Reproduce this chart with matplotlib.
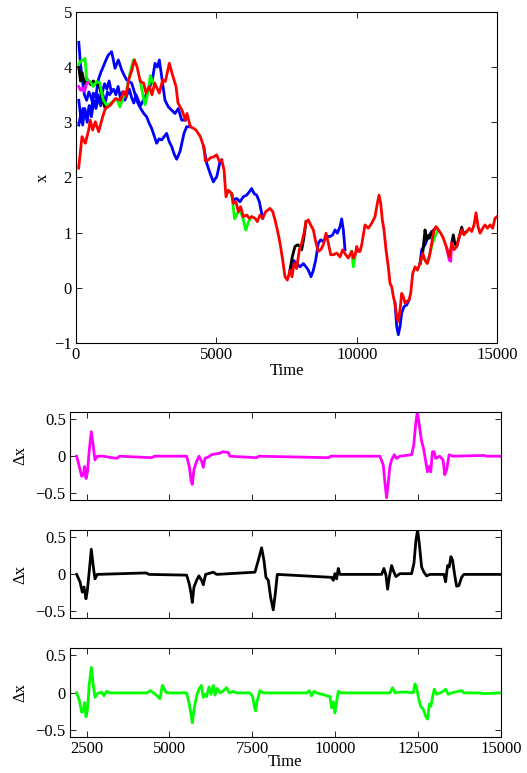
import matplotlib
matplotlib.use("Agg")
import matplotlib.pyplot as plt

plt.rcParams['font.family'] = ['Liberation Serif', 'DejaVu Serif']
plt.rcParams['font.size'] = 12

# ---------------- top panel data ----------------
red_t = [95,214,333,451,510,594,689,808,950,1045,1223,1401,1579,1698,1793,1876,1995,2078,2173,2292,2411,2494,2613,2708,2803,2969,3088,3183,3326,3421,3563,3634,3777,3895,3955,4073,4192,4276,4430,4549,4610,4716,4800,4893,5012,5107,5190,5273,5344,5427,5546,5605,5700,5783,5866,5961,6080,6175,6259,6378,6461,6556,6652,6759,6912,7009,7091,7174,7269,7364,7447,7530,7625,7696,7767,7862,7957,8041,8124,8195,8278,8361,8456,8551,8634,8718,8812,8908,8990,9075,9169,9288,9407,9502,9609,9702,9823,9882,9950,10001,10060,10119,10179,10297,10415,10535,10653,10736,10796,10856,10914,10974,11045,11127,11188,11248,11306,11366,11426,11484,11544,11604,11662,11722,11783,11865,11925,11996,12079,12161,12257,12353,12435,12517,12588,12673,12755,12827,12909,12994,13087,13208,13301,13386,13468,13564,13657,13742,13824,13921,14013,14099,14181,14252,14324,14395,14490,14572,14655,14751,14846,14929,15000]
red_x = [2.17,2.74,2.62,2.86,3.04,2.86,3.01,2.83,3.10,3.25,3.31,3.43,3.40,3.56,3.47,3.77,3.95,4.13,4.01,3.74,3.71,3.53,3.65,3.50,3.71,3.53,3.77,3.74,4.07,3.89,3.65,3.35,3.22,3.04,3.16,2.92,2.89,2.86,2.74,2.56,2.30,2.32,2.36,2.37,2.41,2.29,2.32,2.14,1.65,1.77,1.71,1.53,1.56,1.38,1.47,1.29,1.32,1.26,1.29,1.26,1.20,1.32,1.26,1.38,1.44,1.38,1.23,1.05,0.81,0.50,0.20,0.14,0.32,0.20,0.44,0.35,0.69,0.81,0.99,1.20,1.23,1.14,1.05,0.81,0.66,0.69,0.78,0.99,0.81,0.60,0.60,0.63,0.56,0.69,0.60,0.54,0.66,0.54,0.60,0.75,0.66,0.66,0.78,1.14,1.08,1.17,1.29,1.53,1.68,1.53,1.23,1.05,0.69,0.38,0.08,0.02,-0.16,-0.28,-0.52,-0.61,-0.40,-0.10,-0.16,-0.28,-0.25,-0.22,-0.10,0.26,0.38,0.32,0.44,0.63,0.50,0.44,0.56,0.81,1.05,1.11,1.05,0.99,0.90,0.72,0.56,0.81,0.69,0.75,0.93,1.05,0.96,1.02,1.08,1.02,1.14,1.36,1.11,0.99,1.08,1.14,1.08,1.14,1.08,1.26,1.29]

blueA_t = [100,180,250,321,400,480,550,617,700,796,880,974,1060,1152,1271,1390,1509,1627,1720,1806,1984,2080,2162,2250,2340,2430,2518,2610,2696,2790,2874,2960,3052,3140,3230,3320,3409,3500,3587,3706,3848,3943,4073]
blueA_x = [3.40,3.05,3.25,3.22,3.00,3.30,3.15,3.53,3.45,3.77,3.90,4.01,4.12,4.22,4.28,3.98,4.13,3.95,3.85,3.77,3.71,3.55,3.40,3.30,3.22,3.15,3.10,2.98,2.89,2.75,2.62,2.70,2.68,2.74,2.80,2.65,2.56,2.42,2.33,2.47,2.80,2.92,2.92]

blueB_t = [100,160,230,300,380,460,540,620,700,780,860,940,1020,1100,1180,1260,1340,1420,1500,1580,1660,1740,1820,1900,1980,2060,2140,2220,2300,2399,2500,2637,2730,2815,2900,2969,3052,3171,3290,3409,3527,3646,3765,3895]
blueB_x = [4.45,4.05,3.75,3.50,3.40,3.55,3.45,3.30,3.35,3.50,3.40,3.55,3.70,3.60,3.75,3.55,3.60,3.50,3.65,3.45,3.55,3.40,3.50,3.60,3.45,3.35,3.50,3.40,3.30,3.40,3.50,3.65,3.80,4.07,4.00,4.13,3.83,3.40,3.28,3.22,3.16,3.25,3.04,3.04]

blueC_t = [100,170,240,310,390,470,550,630,710,800,880,960,1040,1120,1200,1260]
blueC_x = [2.95,3.15,2.95,3.25,3.05,3.30,3.10,3.40,3.25,3.45,3.30,3.50,3.35,3.55,3.50,3.55]

blueD1_t = [4549,4656,4774,4893,4950,5012,5071,5131,5190]
blueD1_x = [2.56,2.26,2.08,1.92,1.97,2.01,2.14,2.29,2.32]
blueD2_t = [5546,5605,5724,5843,5961,6080,6175,6259,6342,6437,6532,6592,6652]
blueD2_x = [1.71,1.59,1.62,1.56,1.65,1.68,1.74,1.80,1.71,1.68,1.56,1.41,1.26]
blueD3_t = [7625,7743,7862,7981,8100,8195,8278,8373,8456,8539,8634,8718,8812,8932,9050,9145,9228,9312,9407,9466,9525,9585]
blueD3_x = [0.32,0.50,0.44,0.38,0.44,0.38,0.32,0.20,0.32,0.50,0.81,0.87,0.84,0.93,0.93,0.96,1.05,0.99,1.11,1.25,1.05,0.69]
blueD4_t = [11366,11426,11484,11544,11604,11687,11783,11865]
blueD4_x = [-0.28,-0.70,-0.85,-0.70,-0.46,-0.34,-0.31,-0.22]
blueD5_t = [12257,12316,12435,12553,12673,12755]
blueD5_x = [0.44,0.69,0.78,0.93,1.02,1.05]

blackS_t = [100,160,220,300,380,460,540,620,700,780,860,940,1045]
blackS_x = [4.00,3.75,3.90,3.70,3.80,3.72,3.68,3.75,3.70,3.72,3.60,3.40,3.25]
blackD1_t = [7625,7700,7803,7900,7981,8041,8100,8159,8195]
blackD1_x = [0.32,0.55,0.75,0.78,0.75,0.69,0.85,1.05,1.20]
blackD2_t = [12257,12353,12435,12494,12553,12600,12673,12755]
blackD2_x = [0.44,0.63,1.05,0.87,0.95,0.90,1.00,1.05]
blackD3_t = [13386,13444,13500,13564,13657,13742,13800,13921]
blackD3_x = [0.81,0.96,0.80,0.75,0.93,1.10,0.98,1.02]

greenS_t = [100,142,261,321,380,499,617,736,855,915,974,1093,1212,1330,1450,1568,1687,1806,1924,2043,2078]
greenS_x = [4.05,4.10,4.13,4.16,3.77,3.74,3.65,3.74,3.71,3.53,3.40,3.31,3.34,3.38,3.43,3.28,3.46,3.59,3.89,4.13,4.13]
greenD1_t = [2292,2400,2458,2550,2650,2750,2803]
greenD1_x = [3.74,3.45,3.32,3.50,3.85,3.70,3.71]
greenD2_t = [5546,5650,5750,5850,5950,6050,6150,6259]
greenD2_x = [1.71,1.25,1.35,1.40,1.25,1.05,1.20,1.29]
greenD3_t = [9823,9882,9941]
greenD3_x = [0.66,0.38,0.56]
greenD4_t = [12435,12494,12600,12700,12800,12909]
greenD4_x = [0.50,0.45,0.60,0.80,0.95,1.05]

magS_t = [100,160,230,300,380,440]
magS_x = [3.65,3.58,3.62,3.56,3.70,3.72]
magD1_t = [13208,13301,13350,13386]
magD1_x = [0.72,0.50,0.48,0.81]

# ---------------- difference panels ----------------
dm_t = [2201,2281,2352,2402,2442,2482,2523,2583,2643,2704,2754,2824,3000,3407,3500,4463,4550,5519,5599,5649,5689,5740,5820,5890,5971,6021,6071,6172,6272,6373,6524,6604,6775,6825,7630,7700,9800,9870,11349,11450,11500,11550,11600,11650,11701,11781,11852,11950,12304,12369,12429,12480,12530,12600,12671,12731,12781,12831,12882,12932,12982,13032,13150,13254,13304,13364,13435,13550,14500,14560,15000]
dm_v = [0,-0.14,-0.27,-0.25,-0.14,-0.30,-0.23,0.09,0.33,0.13,-0.05,0,0,-0.03,0,-0.02,0,0,-0.14,-0.32,-0.38,-0.18,-0.07,0,-0.07,-0.15,-0.03,-0.01,0.02,0.03,0.04,0.06,0.05,0,-0.02,0,-0.02,0,0,-0.12,-0.36,-0.56,-0.36,-0.14,-0.05,0.02,-0.03,0,0.02,0.15,0.44,0.60,0.44,0.22,0.09,-0.07,-0.21,-0.14,-0.21,0.06,0.06,-0.03,0,-0.05,-0.25,-0.18,0.02,0,0.01,0,0]

dk_t = [2201,2301,2372,2422,2482,2523,2583,2643,2704,2754,2824,4300,4380,5519,5599,5649,5689,5740,5820,5890,5971,6021,6091,6323,6423,7579,7680,7780,7851,7911,7982,8052,8132,8193,8253,9892,9942,9992,10042,10093,10143,11399,11470,11530,11581,11631,11701,11771,11832,11952,12304,12375,12435,12485,12536,12606,12676,12757,12857,13279,13330,13390,13440,13490,13541,13601,13662,13732,13812,13882,15000]
dk_v = [0,-0.10,-0.24,-0.17,-0.33,-0.22,0.05,0.34,0.10,-0.06,0,0.02,0,-0.01,-0.13,-0.25,-0.38,-0.17,-0.08,-0.02,-0.08,-0.14,0,0.03,0,0.03,0.19,0.36,0.19,-0.04,-0.08,-0.31,-0.48,-0.26,0,-0.04,-0.08,0.01,-0.06,0.08,0,0,0.08,-0.01,-0.20,-0.04,0.12,0.03,-0.03,0.01,0.01,0.15,0.46,0.60,0.42,0.10,0.03,-0.02,0,0,-0.10,0.12,0.10,0.24,0.19,0,-0.16,-0.15,-0.04,0,0]

dg_t = [2201,2281,2352,2402,2442,2482,2523,2583,2643,2704,2754,2824,2955,3025,3106,3206,4312,4433,4513,4634,4714,4785,4845,4915,5519,5589,5649,5689,5750,5820,5890,5961,6021,6071,6122,6192,6252,6323,6373,6443,6524,6604,6725,6805,6926,7026,7428,7509,7559,7599,7650,7730,7831,9138,9218,9288,9359,9439,9841,9892,9942,9992,10042,10093,10193,11651,11731,11802,11952,12153,12354,12405,12455,12505,12576,12656,12736,12787,12837,12887,12938,12988,13058,13159,13259,13330,13410,13510,13812,13882,14365,14466,15000]
dg_v = [0,-0.10,-0.26,-0.24,-0.13,-0.32,-0.24,0.12,0.34,0.10,-0.06,-0.01,0.01,-0.04,0.02,0,0,0.03,0,-0.04,-0.08,0.10,0.05,0,0,-0.13,-0.28,-0.40,-0.20,-0.04,0.05,0.10,-0.06,-0.02,-0.05,0.08,-0.02,0.10,-0.03,0.06,0,0.02,0.07,0,0.02,0,0,-0.05,-0.18,-0.24,-0.10,0.03,0,0,0.03,-0.04,0.02,0,-0.05,-0.20,-0.12,-0.27,-0.12,0.02,0,0,0.07,0,0.01,0.01,0,0.12,0.07,-0.05,-0.18,-0.22,-0.32,-0.35,-0.15,-0.18,-0.05,0.05,-0.02,0,0.02,0.05,-0.02,0,0.03,0,0,-0.01,0]

top_xticks = [0, 5000, 10000, 15000]
top_yticks = [-1, 0, 1, 2, 3, 4, 5]
bot_xticks = [2500, 5000, 7500, 10000, 12500, 15000]
bot_yticks = [-0.5, 0, 0.5]

BLUE = '#0000ff'
GREEN = '#00ff00'
BLACK = '#000000'
MAG = '#ff00ff'
RED = '#ff0000'

fig = plt.figure(figsize=(5.27, 7.73), dpi=100)

def style(ax):
    ax.tick_params(direction='in', top=True, right=True, length=4, width=0.6, labelsize=12, pad=3)
    for s in ax.spines.values():
        s.set_linewidth(0.8)

ax1 = fig.add_axes([0.1442, 0.5563, 0.7989, 0.4282])
lw = 2.0
for tt, xx in [(blueA_t, blueA_x), (blueB_t, blueB_x), (blueC_t, blueC_x),
               (blueD1_t, blueD1_x), (blueD2_t, blueD2_x), (blueD3_t, blueD3_x),
               (blueD4_t, blueD4_x), (blueD5_t, blueD5_x)]:
    ax1.plot(tt, xx, color=BLUE, lw=lw)
for tt, xx in [(blackS_t, blackS_x), (blackD1_t, blackD1_x), (blackD2_t, blackD2_x), (blackD3_t, blackD3_x)]:
    ax1.plot(tt, xx, color=BLACK, lw=lw)
for tt, xx in [(greenS_t, greenS_x), (greenD1_t, greenD1_x), (greenD2_t, greenD2_x),
               (greenD3_t, greenD3_x), (greenD4_t, greenD4_x)]:
    ax1.plot(tt, xx, color=GREEN, lw=lw)
for tt, xx in [(magS_t, magS_x), (magD1_t, magD1_x)]:
    ax1.plot(tt, xx, color=MAG, lw=lw)
ax1.plot(red_t, red_x, color=RED, lw=lw)
ax1.set_xlim(0, 15000)
ax1.set_ylim(-1, 5)
ax1.set_xticks(top_xticks)
ax1.set_xticklabels([str(v) for v in top_xticks])
ax1.set_yticks(top_yticks)
ax1.set_yticklabels([str(v) if v >= 0 else '\u2212' + str(-v) for v in top_yticks])
ax1.set_xlabel('Time', labelpad=0)
ax1.set_ylabel('x', labelpad=2)
style(ax1)

positions = [[0.1328, 0.3532, 0.8178, 0.1142],
             [0.1328, 0.2005, 0.8178, 0.1138],
             [0.1328, 0.0466, 0.8178, 0.1151]]
series = [(dm_t, dm_v, MAG), (dk_t, dk_v, BLACK), (dg_t, dg_v, GREEN)]
for i, (pos, (tt, vv, c)) in enumerate(zip(positions, series)):
    ax = fig.add_axes(pos)
    ax.plot(tt, vv, color=c, lw=2.0)
    ax.set_xlim(2000, 15000)
    ax.set_ylim(-0.59, 0.6)
    ax.set_xticks(bot_xticks)
    ax.set_yticks(bot_yticks)
    ax.set_yticklabels(['\u22120.5', '0', '0.5'])
    ax.set_ylabel('\u0394x', labelpad=5)
    style(ax)
    if i < 2:
        ax.set_xticklabels([])
    else:
        ax.set_xticklabels([str(v) for v in bot_xticks])
        ax.set_xlabel('Time', labelpad=-2)

fig.savefig('out.png', dpi=100)
